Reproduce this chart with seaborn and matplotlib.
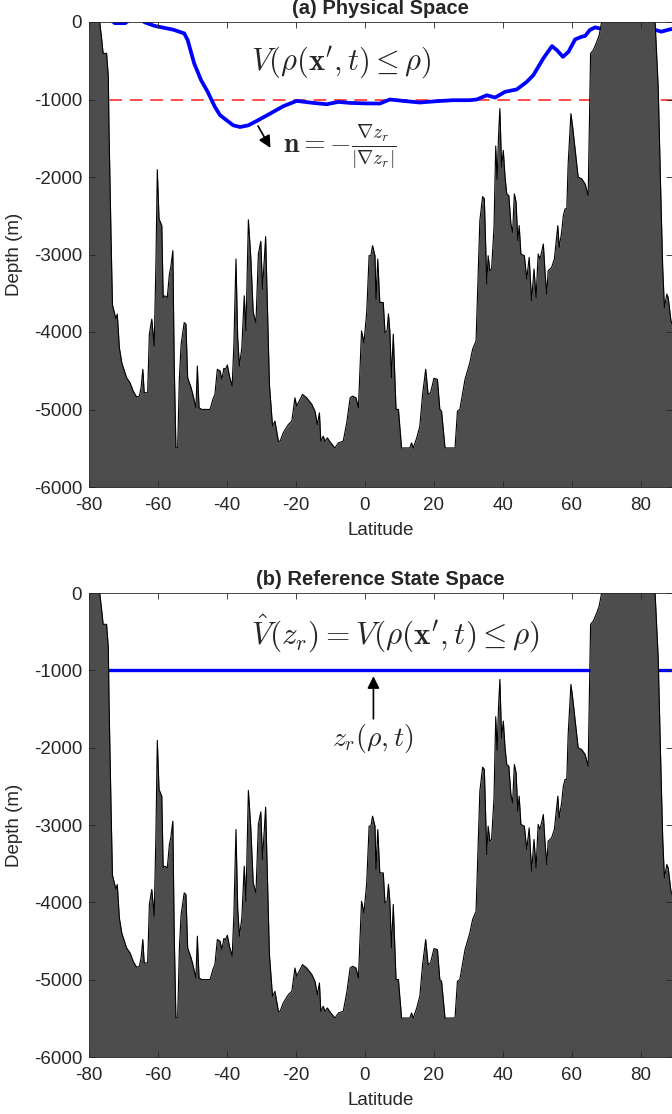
import numpy as np
import pandas as pd
import matplotlib
matplotlib.use("Agg")
import matplotlib.pyplot as plt
import seaborn as sns

# Bathymetry profile (latitude, depth in m)
lat_bathy = [-80.0, -76.9, -76.3, -75.9, -74.9, -74.4, -74.2, -73.6, -73.2, -72.2,
             -71.8, -71.2, -70.5, -69.1, -68.1, -67.2, -66.2, -65.4, -64.9, -64.4,
             -64.0, -63.0, -62.5, -61.8, -61.1, -60.6, -60.2, -59.7, -58.9, -58.5,
             -58.0, -57.3, -56.7, -56.3, -55.7, -55.3, -54.8, -54.3, -53.8, -53.3,
             -52.4, -51.9, -51.4, -50.4, -49.9, -49.0, -48.6, -48.1, -47.3, -44.9,
             -44.1, -43.5, -42.8, -42.0, -41.5, -40.9, -40.4, -39.9, -39.3, -38.5,
             -38.0, -37.4, -36.9, -36.4, -35.7, -35.0, -34.5, -33.8, -33.1, -32.4,
             -31.6, -30.9, -30.2, -29.7, -28.8, -27.7, -26.8, -26.1, -25.1, -24.6,
             -23.7, -22.2, -21.2, -20.3, -19.8, -18.1, -16.9, -15.4, -14.5, -13.8,
             -13.2, -12.8, -12.1, -11.6, -10.9, -9.9, -8.7, -7.7, -6.3, -5.3,
             -4.3, -3.6, -2.6, -1.9, -1.0, -0.3, 0.5, 1.2, 1.7, 2.2,
             2.9, 3.2, 3.7, 4.3, 5.3, 5.8, 6.4, 6.8, 7.2, 7.7,
             8.2, 9.0, 9.7, 10.6, 13.0, 13.5, 14.0, 15.0, 15.9, 16.7,
             17.6, 18.3, 19.0, 20.0, 21.0, 21.7, 22.2, 23.2, 26.1, 26.8,
             27.5, 29.0, 30.4, 31.2, 32.2, 32.8, 33.3, 34.1, 34.6, 35.3,
             35.7, 36.2, 36.7, 37.4, 37.9, 38.3, 38.7, 39.1, 39.6, 40.1,
             40.6, 41.1, 41.7, 42.3, 42.8, 43.3, 43.8, 44.3, 44.7, 45.2,
             46.2, 46.9, 47.6, 48.3, 49.0, 49.6, 50.2, 50.7, 51.2, 51.7,
             52.2, 52.7, 53.1, 54.1, 54.9, 55.4, 55.9, 56.3, 57.0, 57.5,
             58.0, 58.5, 58.9, 59.7, 60.2, 60.9, 61.8, 62.8, 63.8, 64.7,
             65.4, 66.2, 67.2, 67.9, 68.6, 69.0, 83.8, 84.1, 84.3, 85.0,
             85.7, 86.3, 86.8, 87.5, 87.9, 88.7, 90.0]
depth_bathy = [500, 0, -233, -405, -405, -708, -1398, -2800, -3650, -3830,
               -3769, -4202, -4396, -4590, -4655, -4762, -4840, -4827, -4719, -4481,
               -4784, -4784, -4028, -3834, -4180, -3119, -1906, -2540, -2627, -3555,
               -3533, -3555, -3252, -3166, -2950, -4413, -5496, -5496, -4590, -4158,
               -3878, -3899, -4590, -4719, -4805, -4978, -4438, -4978, -4999, -4999,
               -4869, -4805, -4481, -4503, -4611, -4468, -4481, -4425, -4568, -4697,
               -4158, -3058, -4072, -4438, -4202, -3533, -3986, -2553, -3037, -3749,
               -3878, -2993, -2830, -3446, -2769, -4675, -5215, -5150, -5409, -5409,
               -5301, -5193, -5150, -4849, -4956, -4805, -4849, -4934, -5021, -5193,
               -5043, -5409, -5344, -5409, -5366, -5431, -5496, -5431, -5409, -5172,
               -4849, -4827, -4849, -4978, -3986, -4137, -3749, -3015, -3015, -2886,
               -3015, -3575, -3058, -3619, -3619, -4008, -3986, -3766, -3986, -4590,
               -4028, -4999, -4999, -5496, -5496, -5431, -5496, -5366, -5215, -4805,
               -4481, -4805, -4784, -4598, -4611, -4999, -5021, -5496, -5496, -5021,
               -4999, -4611, -4396, -4222, -4115, -3252, -2562, -2252, -2281, -3381,
               -3015, -3209, -3187, -2650, -1600, -2030, -1484, -1117, -1872, -1656,
               -2002, -2218, -2239, -2605, -2714, -2218, -2325, -2821, -2627, -2993,
               -3015, -3317, -3037, -3597, -3187, -3555, -2993, -3058, -2972, -2864,
               -3231, -3511, -3209, -3166, -3058, -2843, -2627, -2908, -2714, -2497,
               -2411, -2411, -1828, -1182, -1355, -1634, -2002, -2023, -2087, -2239,
               -405, -362, -255, -168, 0, 500, 500, 0, -190, -838,
               -2131, -3166, -3684, -3511, -3555, -3856, -4000]

# Isopycnal depth in physical space
lat_iso = [-77.5, -74.0, -72.5, -69.5, -68.0, -65.5, -63.8, -61.0, -55.5, -52.4,
           -51.4, -49.5, -47.5, -45.6, -43.5, -42.0, -40.1, -38.2, -36.2, -33.8,
           -31.4, -27.5, -23.7, -19.8, -15.0, -11.1, -7.7, -4.3, 0.0, 4.3,
           7.2, 11.1, 15.9, 20.7, 25.6, 30.4, 32.4, 35.3, 37.7, 40.6,
           44.0, 46.9, 48.8, 51.7, 54.2, 55.6, 57.4, 59.0, 60.9, 62.8,
           63.8, 65.2, 66.7, 67.9, 76.0, 84.3, 85.9, 88.4, 90.0]
depth_iso = [80, 40, -15, -15, 40, 40, -5, -50, -100, -147,
             -233, -536, -751, -901, -1096, -1203, -1268, -1333, -1355, -1333,
             -1277, -1182, -1087, -1018, -1044, -1061, -1031, -1044, -1050, -1052,
             -1000, -1018, -1039, -1022, -1009, -1009, -1000, -945, -975, -901,
             -870, -772, -686, -470, -311, -362, -449, -384, -225, -190,
             -181, -103, -69, -82, -90, -103, -125, -95, -85]

ref_depth = -1000
x_ticks = [-80, -60, -40, -20, 0, 20, 40, 60, 80]
y_ticks = [0, -1000, -2000, -3000, -4000, -5000, -6000]

sns.set_theme(style="ticks")
plt.rcParams['font.family'] = ['Liberation Sans', 'DejaVu Sans']
plt.rcParams['axes.unicode_minus'] = False
plt.rcParams['mathtext.fontset'] = 'cm'

bathy = pd.DataFrame({'lat': lat_bathy, 'depth': depth_bathy})
iso = pd.DataFrame({'lat': lat_iso, 'depth': depth_iso})
flat = pd.DataFrame({'lat': [-80, 90], 'depth': [ref_depth, ref_depth]})

fig = plt.figure(figsize=(6.72, 11.14), dpi=100)
ax1 = fig.add_axes([89 / 672, 1 - 487 / 1114, 583 / 672, 465 / 1114])
ax2 = fig.add_axes([89 / 672, 1 - 1057 / 1114, 583 / 672, 464 / 1114])


def style_axes(ax, title):
    ax.fill_between(bathy['lat'], bathy['depth'], -6000, color='#4d4d4d', lw=0, zorder=3)
    sns.lineplot(data=bathy, x='lat', y='depth', color='black', lw=0.8, sort=False,
                 ax=ax, zorder=3.2)
    ax.set_xlim(-80, 89)
    ax.set_ylim(-6000, 0)
    ax.set_xticks(x_ticks)
    ax.set_yticks(y_ticks)
    ax.set_yticklabels([str(v) for v in y_ticks])
    ax.tick_params(direction='in', top=True, right=True, length=4, width=0.6,
                   color='#262626', labelsize=13.5, labelcolor='#262626')
    ax.tick_params(axis='x', pad=7)
    ax.tick_params(axis='y', pad=5)
    ax.xaxis.set_zorder(5)
    ax.yaxis.set_zorder(5)
    for s in ax.spines.values():
        s.set_color('#262626')
        s.set_linewidth(0.6)
        s.set_zorder(5)
    ax.set_xlabel('Latitude', fontsize=13.5, color='#262626', labelpad=6)
    ax.set_ylabel('Depth (m)', fontsize=13.5, color='#262626', labelpad=8)
    ax.set_title(title, fontsize=14.5, fontweight='bold', pad=6)


# (a) physical space
ax1.axhline(ref_depth, color='#ff4d4d', lw=1.4, dashes=(6.5, 4), zorder=2)
sns.lineplot(data=iso, x='lat', y='depth', color='#0000ff', lw=2.7, sort=False,
             ax=ax1, zorder=2.1)
style_axes(ax1, '(a) Physical Space')
ax1.text(-6.8, -515, r"$V(\rho(\mathbf{x}',t) \leq \rho)$", fontsize=22,
         ha='center', va='center', zorder=6)
ax1.annotate('', xy=(-27.0, -1656), xytext=(-31.4, -1311),
             arrowprops=dict(arrowstyle='-|>', color='black', lw=1.2, mutation_scale=18),
             zorder=6)
ax1.text(-23.8, -1611, r"$\mathbf{n} = -\frac{\nabla z_r}{|\nabla z_r|}$", fontsize=20,
         ha='left', va='center', zorder=6)

# (b) reference state space
sns.lineplot(data=flat, x='lat', y='depth', color='#0000ff', lw=2.4, ax=ax2, zorder=2.1)
style_axes(ax2, '(b) Reference State Space')
ax2.text(8.8, -529, r"$\hat{V}(z_r) = V(\rho(\mathbf{x}',t) \leq \rho)$", fontsize=22.5,
         ha='center', va='center', zorder=6)
ax2.annotate('', xy=(2.45, -1040), xytext=(2.45, -1663),
             arrowprops=dict(arrowstyle='-|>', color='black', lw=1.2, mutation_scale=18),
             zorder=6)
ax2.text(2.3, -1884, r"$z_r(\rho,t)$", fontsize=20, ha='center', va='center', zorder=6)

fig.savefig('out.png', dpi=100)
